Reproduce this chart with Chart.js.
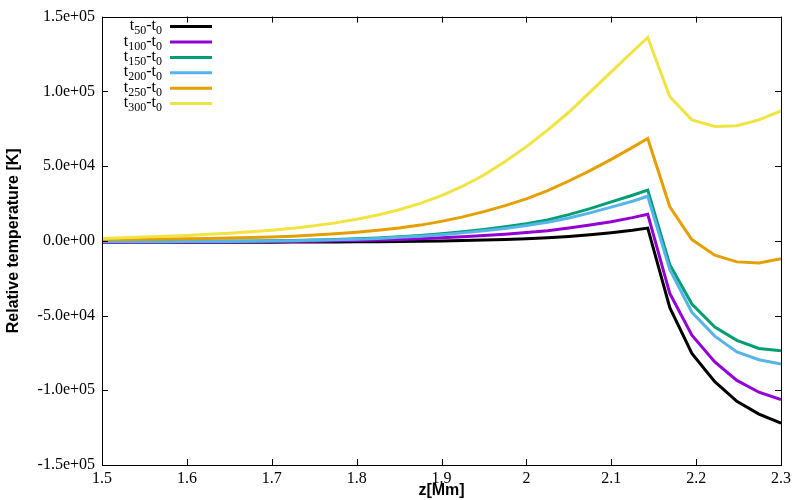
<!DOCTYPE html>
<html><head><meta charset="utf-8">
<script src="https://cdn.jsdelivr.net/npm/chart.js@4.4.1/dist/chart.umd.min.js"></script>
<style>html,body{margin:0;padding:0;background:#fff}</style>
</head><body>
<canvas id="c" width="800" height="500" style="width:800px;height:500px;display:block"></canvas>
<script>
// z [Mm]
const zValues = [1.500,1.525,1.550,1.575,1.600,1.625,1.650,1.675,1.700,1.725,1.750,1.775,1.800,1.825,1.850,1.875,1.900,1.925,1.950,1.975,2.000,2.025,2.050,2.075,2.100,2.125,2.143,2.169,2.195,2.222,2.248,2.274,2.300];

const t50 = [-1000,-1000,-1000,-1000,-1000,-950,-950,-900,-900,-850,-800,-750,-700,-600,-500,-300,-100,200,500,900,1400,2000,2900,4000,5400,7000,8500,-44800,-75400,-94200,-107400,-115900,-122000];
const t100 = [-900,-900,-900,-850,-850,-800,-750,-700,-600,-450,-300,-50,200,500,900,1400,2000,2700,3500,4400,5500,6800,8500,10500,12800,15500,17700,-35300,-63200,-81100,-93400,-101300,-106300];
const t150 = [-500,-500,-450,-400,-350,-300,-200,-100,0,200,500,900,1300,1900,2700,3600,4700,6000,7600,9400,11500,14000,17500,21500,26000,30500,33900,-16000,-42300,-57700,-66600,-72000,-73600];
const t200 = [-700,-700,-650,-600,-550,-500,-400,-300,-150,50,350,700,1100,1600,2300,3100,4100,5300,6700,8300,10200,12400,15300,18700,22500,26500,29800,-19300,-47800,-63800,-74300,-79600,-82400];
const t250 = [800,900,1000,1200,1400,1600,1900,2200,2600,3100,3800,4700,5800,7000,8500,10500,13000,16000,19500,23500,28000,33500,40000,47000,54500,62500,68500,22800,800,-9600,-14100,-14900,-12000];
const t300 = [1600,2000,2500,3000,3600,4300,5100,6000,7100,8400,10000,12000,14400,17300,20800,25000,30200,36500,44000,53000,63000,74000,86000,99500,113000,126500,136000,96400,80900,76500,77000,80900,86900];

const seriesSubs = ['50','100','150','200','250','300'];
const seriesColors = ['#000000','#9400D3','#009E73','#56B4E9','#E69F00','#F0E442'];
const seriesValues = [t50,t100,t150,t200,t250,t300];

const xTicks = [1.5,1.6,1.7,1.8,1.9,2.0,2.1,2.2,2.3];
const xTickLabels = ['1.5','1.6','1.7','1.8','1.9','2','2.1','2.2','2.3'];
const yTicks = [-150000,-100000,-50000,0,50000,100000,150000];
const yTickLabels = ['-1.5e+05','-1.0e+05','-5.0e+04','0.0e+00','5.0e+04','1.0e+05','1.5e+05'];

const xTitle = 'z[Mm]';
const yTitle = 'Relative temperature [K]';

const serif = "'Liberation Serif','Times New Roman',serif";
const sans = "'Liberation Sans',Arial,sans-serif";

const datasets = seriesValues.map((vals, i) => ({
  label: 't' + seriesSubs[i] + '-t0',
  data: zValues.map((z, k) => ({x: z, y: vals[k]})),
  borderColor: seriesColors[i],
  backgroundColor: seriesColors[i],
  borderWidth: 3,
  pointRadius: 0,
  tension: 0,
  fill: false,
  order: seriesValues.length - i,
  borderJoinStyle: 'miter'
}));

const framePlugin = {
  id: 'frame',
  afterDatasetsDraw(chart) {
    const {ctx, chartArea: a, scales: {x, y}} = chart;
    ctx.save();
    ctx.strokeStyle = '#000';
    ctx.lineWidth = 1;
    const L = 6;
    ctx.beginPath();
    xTicks.forEach(v => {
      const px = Math.round(x.getPixelForValue(v)) + 0.5;
      ctx.moveTo(px, a.bottom); ctx.lineTo(px, a.bottom - L);
      ctx.moveTo(px, a.top); ctx.lineTo(px, a.top + L);
    });
    yTicks.forEach(v => {
      const py = Math.round(y.getPixelForValue(v)) + 0.5;
      ctx.moveTo(a.left, py); ctx.lineTo(a.left + L, py);
      ctx.moveTo(a.right, py); ctx.lineTo(a.right - L, py);
    });
    ctx.stroke();
    ctx.strokeRect(Math.round(a.left) + 0.5, Math.round(a.top) + 0.5,
                   Math.round(a.right - a.left), Math.round(a.bottom - a.top));

    // legend (top-left, gnuplot style with subscripts)
    const mainFont = '16px ' + serif;
    const subFont = '12px ' + serif;
    const textRight = a.left + 60;
    const lineX0 = a.left + 68, lineX1 = a.left + 110;
    ctx.fillStyle = '#000';
    ctx.textBaseline = 'alphabetic';
    ctx.textAlign = 'left';
    seriesSubs.forEach((sub, i) => {
      const ly = a.top + 10 + i * 15.4;
      ctx.font = mainFont; const w1 = ctx.measureText('t').width; const w3 = ctx.measureText('-t').width;
      ctx.font = subFont; const w2 = ctx.measureText(sub).width; const w4 = ctx.measureText('0').width;
      let xx = textRight - (w1 + w2 + w3 + w4);
      ctx.font = mainFont; ctx.fillText('t', xx, ly + 3.5); xx += w1;
      ctx.font = subFont; ctx.fillText(sub, xx, ly + 7.5); xx += w2;
      ctx.font = mainFont; ctx.fillText('-t', xx, ly + 3.5); xx += w3;
      ctx.font = subFont; ctx.fillText('0', xx, ly + 7.5);
      ctx.beginPath();
      ctx.strokeStyle = seriesColors[i];
      ctx.lineWidth = 3;
      ctx.moveTo(lineX0, ly); ctx.lineTo(lineX1, ly);
      ctx.stroke();
    });
    ctx.restore();
  }
};

new Chart(document.getElementById('c'), {
  type: 'line',
  data: {datasets},
  options: {
    responsive: false,
    devicePixelRatio: 1,
    animation: false,
    layout: {padding: {left: 4, right: 19, top: 13, bottom: 0}},
    plugins: {legend: {display: false}, tooltip: {enabled: false}},
    scales: {
      x: {
        type: 'linear', min: 1.5, max: 2.3,
        afterBuildTicks: s => { s.ticks = xTicks.map(v => ({value: v})); },
        afterFit: s => { s.height = 35; },
        grid: {display: false, drawTicks: false},
        border: {display: false},
        ticks: {
          callback: (v, i) => xTickLabels[i],
          autoSkip: false, maxRotation: 0, padding: 4,
          color: '#000', font: {family: serif, size: 16}
        },
        title: {display: true, text: xTitle, color: '#000',
                font: {family: sans, size: 16, weight: 'bold'}, padding: {top: 0, bottom: 0}}
      },
      y: {
        type: 'linear', min: -150000, max: 150000,
        afterBuildTicks: s => { s.ticks = yTicks.map(v => ({value: v})); },
        afterFit: s => { s.width = 98; },
        grid: {display: false, drawTicks: false},
        border: {display: false},
        ticks: {
          callback: (v, i) => yTickLabels[i],
          autoSkip: false, padding: 7,
          color: '#000', font: {family: serif, size: 16}
        },
        title: {display: true, text: yTitle, color: '#000',
                font: {family: sans, size: 16, weight: 'bold'}, padding: {top: 0, bottom: 0}}
      }
    }
  },
  plugins: [framePlugin]
});
</script>
</body></html>
